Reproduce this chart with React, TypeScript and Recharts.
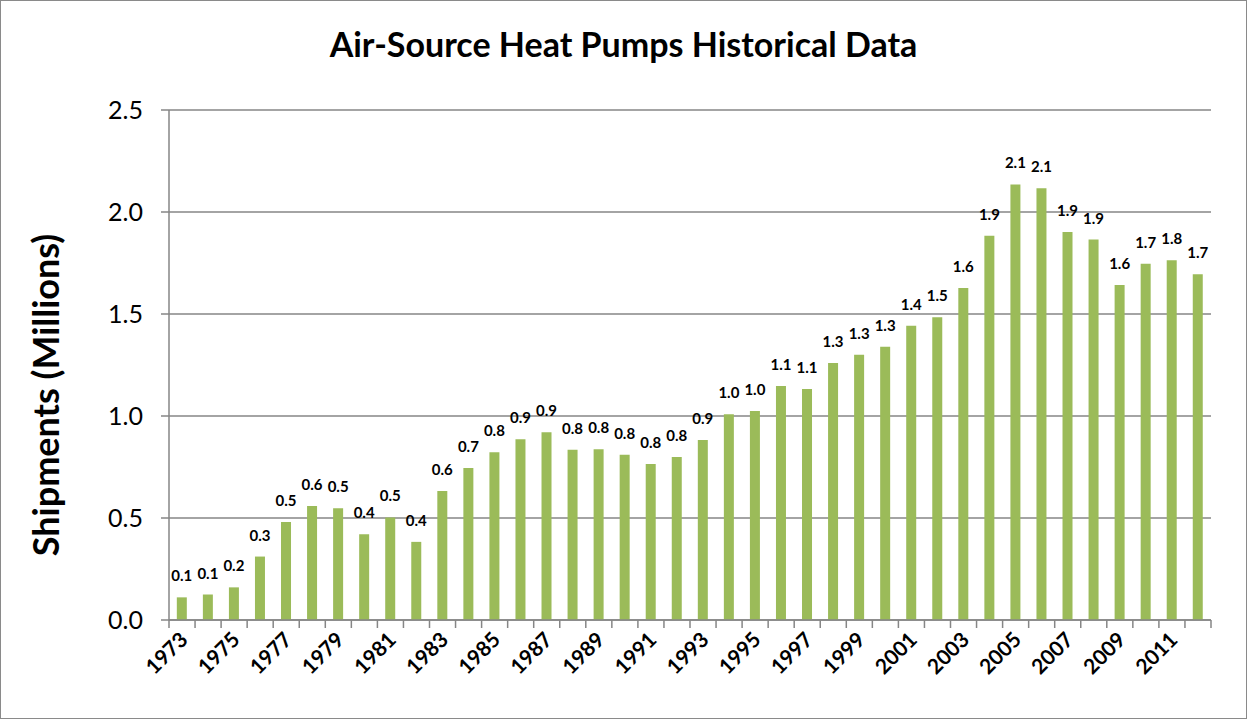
import React from 'react';
import { BarChart, Bar, XAxis, YAxis, CartesianGrid, LabelList } from 'recharts';

// Shipments by year, millions of units
const years = [
  '1973', '1974', '1975', '1976', '1977', '1978', '1979', '1980', '1981', '1982',
  '1983', '1984', '1985', '1986', '1987', '1988', '1989', '1990', '1991', '1992',
  '1993', '1994', '1995', '1996', '1997', '1998', '1999', '2000', '2001', '2002',
  '2003', '2004', '2005', '2006', '2007', '2008', '2009', '2010', '2011', '2012',
];
const shipments = [
  0.111, 0.125, 0.16, 0.311, 0.48, 0.559, 0.548, 0.42, 0.503, 0.383,
  0.632, 0.745, 0.822, 0.886, 0.92, 0.835, 0.837, 0.81, 0.765, 0.799,
  0.882, 1.008, 1.025, 1.147, 1.132, 1.26, 1.3, 1.339, 1.443, 1.484,
  1.627, 1.884, 2.135, 2.116, 1.902, 1.865, 1.642, 1.746, 1.764, 1.695,
];
const yTicks = [0, 0.5, 1, 1.5, 2, 2.5];

const data = years.map((year, i) => ({ year, value: shipments[i] }));

const W = 1245;
const H = 717;
const margin = { top: 109, right: 35, bottom: 38, left: 108 };
const yAxisWidth = 60;
const xAxisHeight = 60;
const font = 'Lato, "Open Sans", sans-serif';
const axisGray = '#868686';

const plotWidth = W - margin.left - margin.right - yAxisWidth;
const band = plotWidth / years.length;

// tick marks sit between categories, labels on every other year
const YearTick = (props: any) => {
  const { x, y, payload, index } = props;
  const top = y - 8;
  const tx = x + 7;
  const ty = y + 13;
  return (
    <g>
      <line x1={x - band / 2} y1={top} x2={x - band / 2} y2={top + 8} stroke={axisGray} strokeWidth={1.5} />
      {index === years.length - 1 && (
        <line x1={x + band / 2} y1={top} x2={x + band / 2} y2={top + 8} stroke={axisGray} strokeWidth={1.5} />
      )}
      {index % 2 === 0 && (
        <text
          x={tx}
          y={ty}
          transform={`rotate(-45, ${tx}, ${ty})`}
          textAnchor="end"
          fontFamily={font}
          fontWeight={700}
          fontSize={21}
          fill="#000"
        >
          {payload.value}
        </text>
      )}
    </g>
  );
};

const App = () => {
  return (
    <div
      style={{
        position: 'absolute',
        left: 0,
        top: 0,
        width: 1247,
        height: 719,
        border: '1px solid #8a8a8a',
        boxSizing: 'border-box',
        background: '#fff',
      }}
    >
      <div
        style={{
          position: 'absolute',
          top: 23,
          left: 0,
          width: W,
          textAlign: 'center',
          fontFamily: font,
          fontWeight: 700,
          fontSize: 34,
          lineHeight: '40px',
          color: '#000',
        }}
      >
        Air-Source Heat Pumps Historical Data
      </div>
      <div
        style={{
          position: 'absolute',
          left: 44,
          top: 394,
          transform: 'translate(-50%, -50%) rotate(-90deg)',
          whiteSpace: 'nowrap',
          fontFamily: font,
          fontWeight: 700,
          fontSize: 36,
          lineHeight: '40px',
          color: '#000',
        }}
      >
        Shipments (Millions)
      </div>
      <BarChart width={W} height={H} data={data} margin={margin} barCategoryGap="30%">
        <CartesianGrid vertical={false} stroke={axisGray} strokeWidth={1.5} />
        <XAxis
          dataKey="year"
          interval={0}
          height={xAxisHeight}
          tickLine={false}
          axisLine={{ stroke: axisGray, strokeWidth: 1.5 }}
          tick={<YearTick />}
        />
        <YAxis
          width={yAxisWidth}
          domain={[0, 2.5]}
          ticks={yTicks}
          tickFormatter={(v: number) => v.toFixed(1)}
          tickSize={8}
          tickMargin={18}
          axisLine={{ stroke: axisGray, strokeWidth: 1.5 }}
          tickLine={{ stroke: axisGray, strokeWidth: 1.5 }}
          tick={{ fontFamily: font, fontSize: 25, fill: '#000' }}
        />
        <Bar dataKey="value" fill="#9BBB59" isAnimationActive={false}>
          <LabelList
            dataKey="value"
            position="top"
            offset={16}
            formatter={(v: any) => Number(v).toFixed(1)}
            style={{ fontFamily: font, fontWeight: 700, fontSize: 15, fill: '#000' }}
          />
        </Bar>
      </BarChart>
    </div>
  );
};

export default App;
